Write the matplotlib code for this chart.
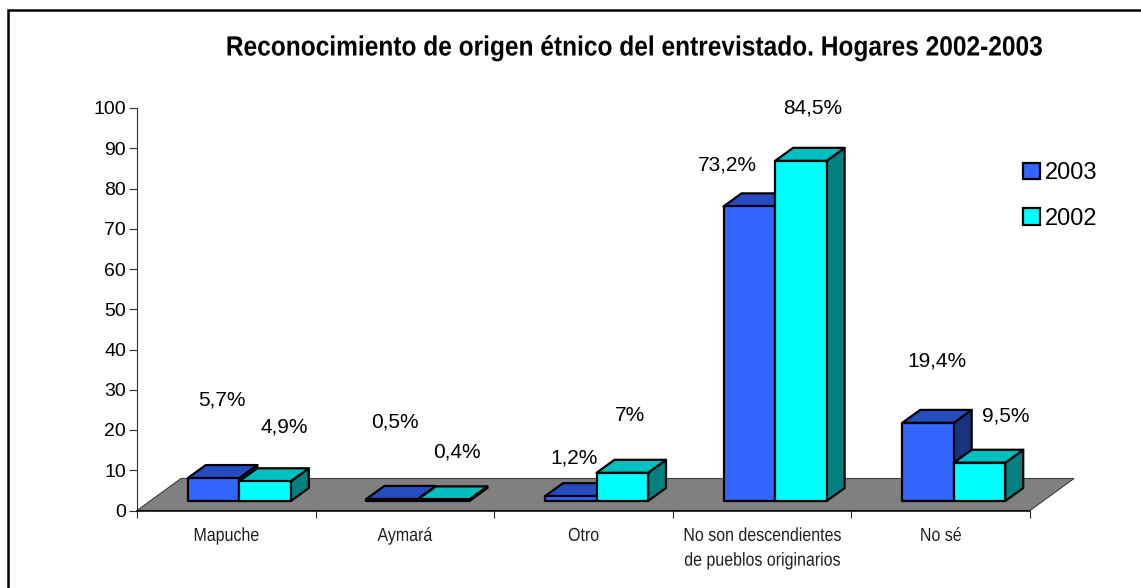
#!/usr/bin/python
# coding: utf-8

""" Excel style 3D column chart, drawn by hand on a flat matplotlib axes """

import numpy as np
import matplotlib
matplotlib.use('Agg')
import matplotlib.pyplot as plt
from matplotlib.patches import Patch, Polygon, Rectangle
from matplotlib.patheffects import AbstractPathEffect
from matplotlib.transforms import Affine2D

categories = ['Mapuche', 'Aymará', 'Otro', 'No son descendientes\nde pueblos originarios', 'No sé']
series_names = ['2003', '2002']
values_2003 = [5.7, 0.5, 1.2, 73.2, 19.4]
values_2002 = [4.9, 0.4, 7, 84.5, 9.5]
labels_2003 = ['5,7%', '0,5%', '1,2%', '73,2%', '19,4%']
labels_2002 = ['4,9%', '0,4%', '7%', '84,5%', '9,5%']
y_ticks = list(range(0, 101, 10))
title = 'Reconocimiento de origen étnico del entrevistado. Hogares 2002-2003'

W, H = 1141, 588
LEFT, RIGHT, Y0, Y100 = 137, 1030, 510.5, 108

# pixel sizes of the fake depth, turned into data units below
PX_X = (RIGHT - LEFT) / len(categories)
PX_Y = (Y0 - Y100) / 100
FLOOR_DX, FLOOR_DY = 44 / PX_X, 32 / PX_Y
BAR_DX, BAR_DY = 18 / PX_X, 13 / PX_Y
SHIFT_X, SHIFT_Y = 13 / PX_X, 9.5 / PX_Y
BAR_W = 0.2885

# label offsets from the top front centre of each bar, in pixels
offsets_2003 = [(8, 78), (3, 77), (3, 38), (-22, 41), (9, 62)]
offsets_2002 = [(19, 54), (13, 47), (8, 57), (12, 53), (26, 47)]

colors = {
    '2003': ('#3366FF', '#264CBF', '#1A3380'),
    '2002': ('#00FFFF', '#00BFBF', '#008080'),
}

plt.rcParams['font.family'] = ['Liberation Sans', 'DejaVu Sans']


class Squeeze(AbstractPathEffect):
    """ Narrow a text horizontally around cx (no condensed Arial installed) """

    def __init__(self, sx, cx):
        super().__init__()
        self.sx = sx
        self.cx = cx

    def draw_path(self, renderer, gc, tpath, affine, rgbFace=None):
        squeeze = Affine2D().translate(-self.cx, 0).scale(self.sx, 1).translate(self.cx, 0)
        renderer.draw_path(gc, tpath, affine + squeeze, rgbFace)


def squeeze_text(text, sx):
    """ Apply the Squeeze effect around the middle of a text """
    box = text.get_window_extent()
    text.set_path_effects([Squeeze(sx, (box.x0 + box.x1) / 2)])


def draw_bar(ax, x, value, cols):
    """ Draw one column with its side, top and front faces """
    front, top, side = cols
    base = SHIFT_Y
    tip = base + value
    faces = [
        (side, [(x + BAR_W, base), (x + BAR_W + BAR_DX, base + BAR_DY),
                (x + BAR_W + BAR_DX, tip + BAR_DY), (x + BAR_W, tip)]),
        (top, [(x, tip), (x + BAR_DX, tip + BAR_DY),
               (x + BAR_W + BAR_DX, tip + BAR_DY), (x + BAR_W, tip)]),
        (front, [(x, base), (x, tip), (x + BAR_W, tip), (x + BAR_W, base)]),
    ]
    for color, pts in faces:
        ax.add_patch(Polygon(pts, closed=True, facecolor=color, edgecolor='black',
                             linewidth=1.6, joinstyle='round', clip_on=False, zorder=3))


fig = plt.figure(figsize=(W / 100, H / 100), dpi=100, facecolor='white')
ax = fig.add_axes([LEFT / W, 1 - Y0 / H, (RIGHT - LEFT) / W, (Y0 - Y100) / H])
ax.set_xlim(0, len(categories))
ax.set_ylim(0, 100)
ax.patch.set_visible(False)

# floor
n = len(categories)
ax.add_patch(Polygon([(0, 0), (FLOOR_DX, FLOOR_DY), (n + FLOOR_DX, FLOOR_DY), (n, 0)],
                     closed=True, facecolor='#808080', edgecolor='#404040',
                     linewidth=0.8, clip_on=False, zorder=1))

for i in range(n):
    for j, vals in enumerate([values_2003, values_2002]):
        x = i + 0.5 - BAR_W + SHIFT_X + j * BAR_W
        draw_bar(ax, x, vals[i], colors[series_names[j]])

for j, (vals, labs, offs) in enumerate([(values_2003, labels_2003, offsets_2003),
                                        (values_2002, labels_2002, offsets_2002)]):
    for i in range(n):
        x = i + 0.5 - BAR_W + SHIFT_X + j * BAR_W + BAR_W / 2
        ax.annotate(labs[i], (x, SHIFT_Y + vals[i]), xytext=offs[i], textcoords='offset pixels',
                    ha='center', va='center', fontsize=15, color='black', zorder=4,
                    annotation_clip=False)

for side in ['top', 'right']:
    ax.spines[side].set_visible(False)
ax.spines['left'].set_linewidth(0.8)
ax.spines['left'].set_color('#303030')
ax.spines['bottom'].set_linewidth(1.1)

ax.set_yticks(y_ticks)
ax.tick_params(axis='y', length=6, width=0.8, pad=2, labelsize=14, color='#303030')
ax.set_xticks(np.arange(n + 1))
ax.set_xticklabels([])
ax.tick_params(axis='x', which='major', length=5, width=0.8, color='#303030')
ax.set_xticks(np.arange(n) + 0.5, minor=True)
cat_labels = ax.set_xticklabels(categories, minor=True, fontsize=13.5, linespacing=1.6, color='#202020')
ax.tick_params(axis='x', which='minor', length=0, pad=12.5)

handles = [Patch(facecolor=colors[s][0], edgecolor='black', linewidth=1.6, label=s) for s in series_names]
fig.legend(handles=handles, loc='upper left', bbox_to_anchor=(1018 / W, 1 - 157.5 / H),
           frameon=False, fontsize=17, handlelength=0.72, handleheight=0.72,
           handletextpad=0.2, labelspacing=1.0, borderpad=0.2, borderaxespad=0)

title_text = fig.text(634.5 / W, 1 - 48.5 / H, title, ha='center', va='center', fontsize=20, fontweight='bold')

# the border is cut by the right and bottom edges of the picture
fig.add_artist(Rectangle((8 / W, -0.05), 1.1, 1.05 - 10 / H, transform=fig.transFigure,
                         facecolor='none', edgecolor='black', linewidth=1.8))

fig.canvas.draw()
squeeze_text(title_text, 0.882)
for label in cat_labels:
    squeeze_text(label, 0.852)

fig.savefig('out.png', dpi=100)
